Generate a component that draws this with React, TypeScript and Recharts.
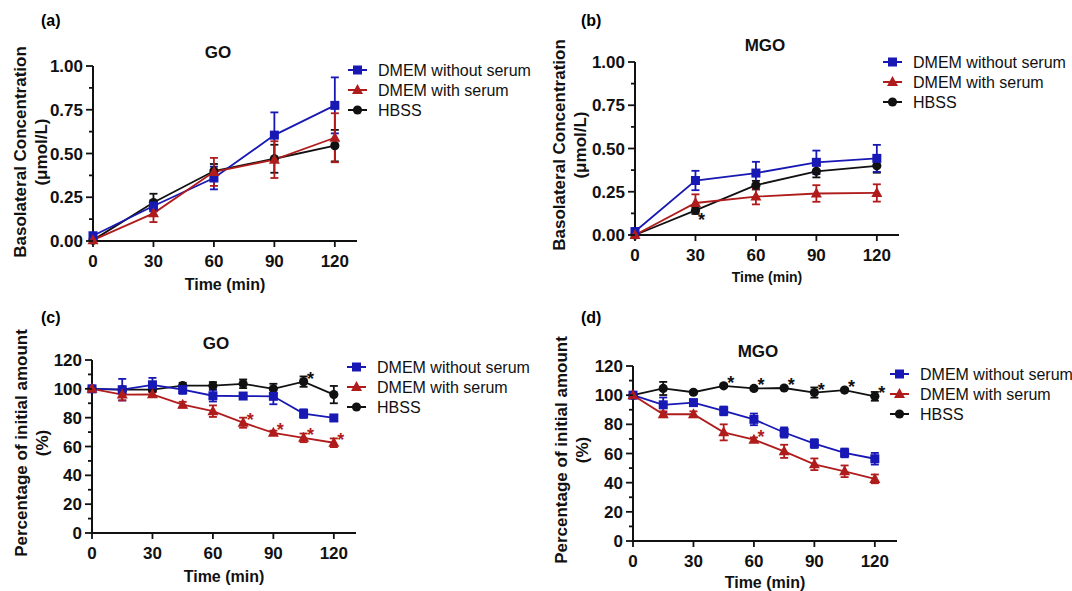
import { ErrorBar, Line, LineChart, XAxis, YAxis } from "recharts";

const FONT = "'Liberation Sans', Arial, Helvetica, sans-serif";
const BLUE = "#1818b4";
const RED = "#b01c1c";
const BLACK = "#111111";

// sampling times (min)
const timesShort = [0, 30, 60, 90, 120];
const timesLong = [0, 15, 30, 45, 60, 75, 90, 105, 120];

// (a) GO, basolateral concentration (umol/L)
const goBasoNoSerum = [0.03, 0.2, 0.36, 0.605, 0.775];
const goBasoNoSerumErr = [0.01, 0.03, 0.065, 0.13, 0.16];
const goBasoSerum = [0.005, 0.158, 0.395, 0.465, 0.59];
const goBasoSerumErr = [0, 0.05, 0.08, 0.105, 0.14];
const goBasoHbss = [0.005, 0.22, 0.4, 0.47, 0.545];
const goBasoHbssErr = [0, 0.05, 0.04, 0.08, 0.09];

// (b) MGO, basolateral concentration (umol/L)
const mgoBasoNoSerum = [0.02, 0.315, 0.358, 0.42, 0.443];
const mgoBasoNoSerumErr = [0.005, 0.056, 0.065, 0.068, 0.078];
const mgoBasoSerum = [0, 0.185, 0.222, 0.24, 0.243];
const mgoBasoSerumErr = [0, 0.05, 0.045, 0.048, 0.05];
const mgoBasoHbss = [0, 0.142, 0.288, 0.368, 0.4];
const mgoBasoHbssErr = [0, 0.02, 0.025, 0.035, 0.04];
const mgoBasoHbssSig = [0, 1, 0, 0, 0];

// (c) GO, percentage of initial amount
const goPctNoSerum = [100, 99.4, 102.8, 99.5, 95.2, 95, 94.8, 82.8, 79.8];
const goPctNoSerumErr = [0, 7.5, 4.8, 3, 4, 1.2, 5.5, 3, 1.2];
const goPctSerum = [100, 96, 96.2, 89, 84.5, 76.5, 69.5, 66, 62.6];
const goPctSerumErr = [0, 4, 1.5, 2, 4, 3.5, 1.5, 3, 3];
const goPctSerumSig = [0, 0, 0, 0, 0, 1, 1, 1, 1];
const goPctHbss = [100, 99.4, 99.4, 102.2, 102.2, 103.5, 100, 105, 96];
const goPctHbssErr = [0, 1, 1, 2, 2.5, 3, 3.5, 3.6, 6];
const goPctHbssSig = [0, 0, 0, 0, 0, 0, 0, 1, 0];

// (d) MGO, percentage of initial amount
const mgoPctNoSerum = [100, 93.4, 94.9, 89.2, 83.4, 74.4, 66.8, 60.4, 56.4];
const mgoPctNoSerumErr = [0, 5, 1.5, 3, 4, 3.5, 3, 3, 4];
const mgoPctSerum = [100, 86.9, 86.9, 74.5, 69.5, 61.5, 52.6, 47.8, 42.6];
const mgoPctSerumErr = [0, 2, 2, 5.5, 1.5, 4.5, 4, 4, 3];
const mgoPctSerumSig = [0, 0, 0, 0, 1, 0, 0, 0, 0];
const mgoPctHbss = [100, 104.6, 102, 106.4, 104.6, 104.9, 101.8, 103.5, 99.2];
const mgoPctHbssErr = [0, 4.5, 1, 1, 1, 1, 3.5, 1, 3];
const mgoPctHbssSig = [0, 0, 0, 1, 1, 1, 1, 1, 1];

const xTicks = [0, 30, 60, 90, 120];
const concTicks = [0, 0.25, 0.5, 0.75, 1];
const concMinor = [0.125, 0.375, 0.625, 0.875];
const pctTicks = [0, 20, 40, 60, 80, 100, 120];
const pctMinor = [10, 30, 50, 70, 90, 110];

const legendItems = [
  { name: "DMEM without serum", color: BLUE, shape: "square" },
  { name: "DMEM with serum", color: RED, shape: "triangle" },
  { name: "HBSS", color: BLACK, shape: "circle" },
];

const Y_TICK_SIZE = 7;
const Y_TICK_MARGIN = 3;

function Marker({ cx, cy, shape, color }: { cx: number; cy: number; shape: string; color: string }) {
  if (cx == null || cy == null) return <g />;
  if (shape === "square") return <rect x={cx - 4.5} y={cy - 4.5} width={9} height={9} fill={color} />;
  if (shape === "triangle")
    return <polygon points={`${cx},${cy - 6} ${cx - 5.5},${cy + 4} ${cx + 5.5},${cy + 4}`} fill={color} />;
  return <circle cx={cx} cy={cy} r={4.6} fill={color} />;
}

function buildRows(times: number[], a: number[], ae: number[], b: number[], be: number[], c: number[], ce: number[]) {
  return times.map((t, i) => ({
    t,
    noSerum: a[i],
    noSerumErr: ae[i],
    serum: b[i],
    serumErr: be[i],
    hbss: c[i],
    hbssErr: ce[i],
  }));
}

function Centered({ x, y, children, style }: any) {
  return (
    <div
      style={{
        position: "absolute",
        left: x,
        top: y,
        transform: "translate(-50%, -50%)",
        whiteSpace: "nowrap",
        lineHeight: 1,
        fontFamily: FONT,
        color: BLACK,
        ...style,
      }}
    >
      {children}
    </div>
  );
}

function LegendBlock({ x, y }: { x: number; y: number }) {
  return (
    <svg style={{ position: "absolute", left: x, top: y - 10 }} width={200} height={62}>
      {legendItems.map((item, i) => (
        <g key={item.name}>
          <line x1={0} x2={19} y1={10 + i * 20} y2={10 + i * 20} stroke={item.color} strokeWidth={2} />
          <Marker cx={9.5} cy={10 + i * 20} shape={item.shape} color={item.color} />
          <text x={30} y={10 + i * 20} dy="0.36em" fontSize={16} fontFamily={FONT} fill={BLACK}>
            {item.name}
          </text>
        </g>
      ))}
    </svg>
  );
}

function starLabel(sig: number[] | undefined, color: string, dx: number, dy: number) {
  return (p: any) => {
    if (!sig || !sig[p.index]) return <g key={`s${p.index}`} />;
    return (
      <text
        key={`s${p.index}`}
        x={p.x + dx}
        y={p.y + dy + 10}
        textAnchor="middle"
        fontSize={18}
        fontWeight={700}
        fontFamily={FONT}
        fill={color}
      >
        *
      </text>
    );
  };
}

function Panel(props: any) {
  const {
    rows, left, top, right, bottom, yMax, yTicks, yMinor, fmt,
    serumSig, hbssSig, starDx, starDy,
    title, titlePos, letter, letterPos, yLabel, yLabelPos, xLabelPos, xLabelSize, legendPos,
  } = props;
  const w = right - left + 80;
  const h = bottom - top + 20 + 30;
  const allTicks = [...yTicks, ...yMinor].sort((a: number, b: number) => a - b);

  const yTick = (p: any) => {
    const axisX = p.x + Y_TICK_SIZE + Y_TICK_MARGIN;
    const v = p.payload.value;
    const major = yTicks.some((m: number) => Math.abs(m - v) < 1e-9);
    return (
      <g>
        <line x1={axisX - (major ? 7 : 4)} x2={axisX} y1={p.y} y2={p.y} stroke={BLACK} strokeWidth={1.8} />
        {major && (
          <text x={p.x} y={p.y} dy="0.36em" textAnchor="end" fontSize={17} fontWeight={700} fontFamily={FONT} fill={BLACK}>
            {fmt(v)}
          </text>
        )}
      </g>
    );
  };

  const series = [
    { key: "hbss", color: BLACK, shape: "circle", sig: hbssSig },
    { key: "noSerum", color: BLUE, shape: "square", sig: undefined },
    { key: "serum", color: RED, shape: "triangle", sig: serumSig },
  ];

  return (
    <>
      <div style={{ position: "absolute", left: left - 60, top: top - 20 }}>
        <LineChart width={w} height={h} data={rows} margin={{ top: 20, right: 20, bottom: 0, left: 0 }}>
          <XAxis
            dataKey="t"
            type="number"
            domain={[0, 131]}
            ticks={xTicks}
            interval={0}
            height={30}
            tickSize={6}
            tickMargin={8}
            axisLine={{ stroke: BLACK, strokeWidth: 2 }}
            tickLine={{ stroke: BLACK, strokeWidth: 1.8 }}
            tick={{ fontSize: 17, fontWeight: 700, fill: BLACK, fontFamily: FONT }}
          />
          <YAxis
            type="number"
            domain={[0, yMax]}
            ticks={allTicks}
            interval={0}
            width={60}
            tickSize={Y_TICK_SIZE}
            tickMargin={Y_TICK_MARGIN}
            axisLine={{ stroke: BLACK, strokeWidth: 2 }}
            tickLine={false}
            tick={yTick}
          />
          {series.map((s) => (
            <Line
              key={s.key}
              dataKey={s.key}
              stroke={s.color}
              strokeWidth={1.8}
              isAnimationActive={false}
              activeDot={false}
              dot={(p: any) => <Marker key={`${s.key}${p.index}`} cx={p.cx} cy={p.cy} shape={s.shape} color={s.color} />}
              label={starLabel(s.sig, s.color, starDx, starDy)}
            >
              <ErrorBar dataKey={`${s.key}Err`} direction="y" width={4} strokeWidth={1.8} stroke={s.color} />
            </Line>
          ))}
        </LineChart>
      </div>
      <Centered x={titlePos[0]} y={titlePos[1]} style={{ fontSize: 17, fontWeight: 700 }}>
        {title}
      </Centered>
      <div
        style={{
          position: "absolute",
          left: letterPos[0],
          top: letterPos[1] - 9,
          fontFamily: FONT,
          fontSize: 16,
          fontWeight: 700,
          lineHeight: "18px",
          whiteSpace: "nowrap",
        }}
      >
        {letter}
      </div>
      <Centered
        x={yLabelPos[0]}
        y={yLabelPos[1]}
        style={{
          transform: "translate(-50%, -50%) rotate(-90deg)",
          fontSize: 17,
          fontWeight: 700,
          lineHeight: "21px",
          textAlign: "center",
        }}
      >
        {yLabel[0]}
        <br />
        {yLabel[1]}
      </Centered>
      <Centered x={xLabelPos[0]} y={xLabelPos[1]} style={{ fontSize: xLabelSize, fontWeight: 700 }}>
        Time (min)
      </Centered>
      <LegendBlock x={legendPos[0]} y={legendPos[1]} />
    </>
  );
}

const conc = (v: number) => v.toFixed(2);
const pct = (v: number) => String(v);

export default function App() {
  const rowsA = buildRows(timesShort, goBasoNoSerum, goBasoNoSerumErr, goBasoSerum, goBasoSerumErr, goBasoHbss, goBasoHbssErr);
  const rowsB = buildRows(timesShort, mgoBasoNoSerum, mgoBasoNoSerumErr, mgoBasoSerum, mgoBasoSerumErr, mgoBasoHbss, mgoBasoHbssErr);
  const rowsC = buildRows(timesLong, goPctNoSerum, goPctNoSerumErr, goPctSerum, goPctSerumErr, goPctHbss, goPctHbssErr);
  const rowsD = buildRows(timesLong, mgoPctNoSerum, mgoPctNoSerumErr, mgoPctSerum, mgoPctSerumErr, mgoPctHbss, mgoPctHbssErr);
  const concLabel = ["Basolateral Concentration", "(μmol/L)"];
  const pctLabel = ["Percentage of initial amount", "(%)"];

  return (
    <div style={{ position: "absolute", left: 0, top: 0, width: 1072, height: 591, background: "#fff", fontFamily: FONT }}>
      <Panel
        rows={rowsA} left={93} top={66} right={357} bottom={241}
        yMax={1} yTicks={concTicks} yMinor={concMinor} fmt={conc}
        starDx={7} starDy={-7}
        title="GO" titlePos={[218, 52]} letter="(a)" letterPos={[41, 21]}
        yLabel={concLabel} yLabelPos={[30.5, 152]} xLabelPos={[225, 285]} xLabelSize={16} legendPos={[348, 70]}
      />
      <Panel
        rows={rowsB} left={635} top={62} right={899} bottom={235}
        yMax={1} yTicks={concTicks} yMinor={concMinor} fmt={conc}
        hbssSig={mgoBasoHbssSig} starDx={6} starDy={6}
        title="MGO" titlePos={[765, 45]} letter="(b)" letterPos={[581, 21]}
        yLabel={concLabel} yLabelPos={[570, 145]} xLabelPos={[767, 277]} xLabelSize={14} legendPos={[883, 62]}
      />
      <Panel
        rows={rowsC} left={92} top={360} right={356} bottom={533}
        yMax={120} yTicks={pctTicks} yMinor={pctMinor} fmt={pct}
        serumSig={goPctSerumSig} hbssSig={goPctHbssSig} starDx={7} starDy={-7}
        title="GO" titlePos={[216, 343]} letter="(c)" letterPos={[41, 318]}
        yLabel={pctLabel} yLabelPos={[32, 443]} xLabelPos={[224, 577]} xLabelSize={16} legendPos={[347, 367]}
      />
      <Panel
        rows={rowsD} left={633} top={366} right={897} bottom={541}
        yMax={120} yTicks={pctTicks} yMinor={pctMinor} fmt={pct}
        serumSig={mgoPctSerumSig} hbssSig={mgoPctHbssSig} starDx={7} starDy={-7}
        title="MGO" titlePos={[758, 351]} letter="(d)" letterPos={[581, 318]}
        yLabel={pctLabel} yLabelPos={[571.5, 450]} xLabelPos={[765, 583]} xLabelSize={16} legendPos={[890, 374]}
      />
    </div>
  );
}
